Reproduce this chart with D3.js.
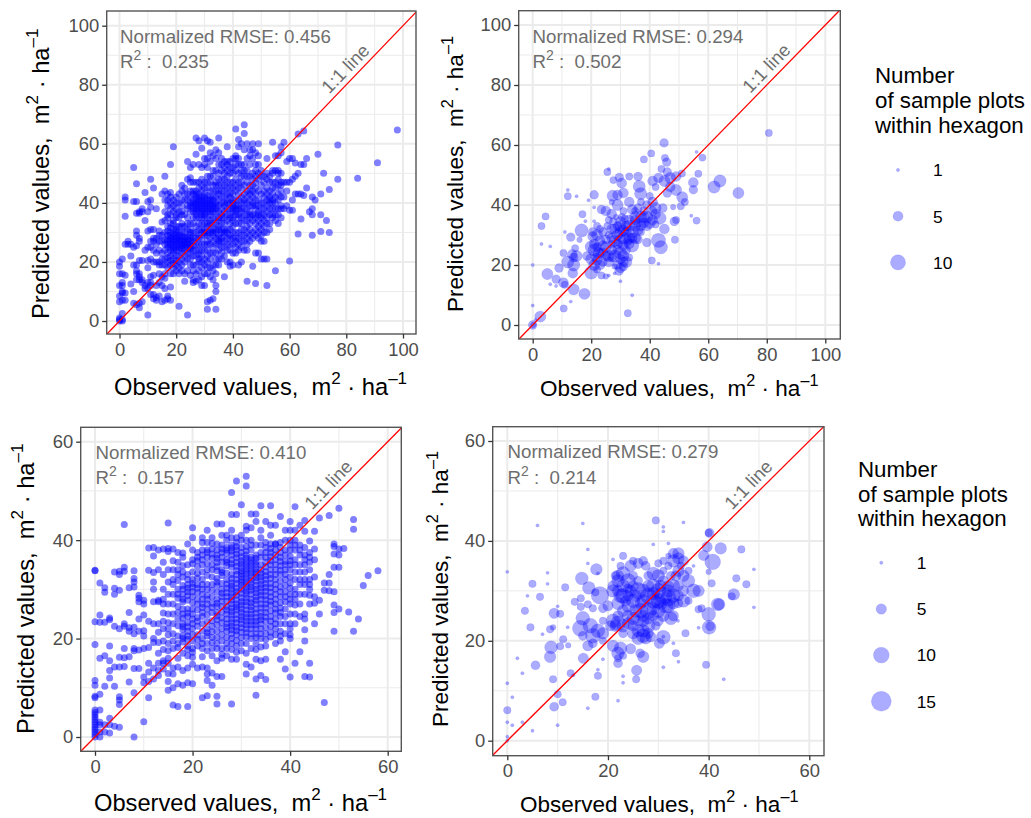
<!DOCTYPE html>
<html>
<head>
<meta charset="utf-8">
<script src="https://cdn.jsdelivr.net/npm/d3@7"></script>
<style>
	body { margin: 0; background: #fff; }
	text { font-family: "Liberation Sans", Arial, sans-serif; }
</style>
</head>
<body>
<svg width="1031" height="818"></svg>
<script>
// observed value, then the predicted values read at that observed value
const columnsA = [
	[0, [0, 0.5, 1, 6.5, 8.5, 12, 16, 18.5, 20]],
	[1, [0, 0.5, 2.5, 7, 9.5, 10, 12, 13, 16, 21]],
	[2, [7, 9.5, 15.5, 26, 35.5, 41, 42]],
	[3, [27, 26]],
	[4, [12.5, 22, 26]],
	[5, [6, 10, 19, 25, 40.5, 52]],
	[6, [5.5, 14, 16, 17, 19, 25.5, 29, 30.5, 36.5, 40.5, 46.5]],
	[7, [4.5, 6, 14, 15, 16, 20.5, 27, 28, 36.5, 37]],
	[8, [6.5, 13, 14, 20.5, 37, 38]],
	[9, [11, 12, 24, 34, 43.5]],
	[10, [2, 11, 13, 18, 20.5, 25, 30.5, 37, 40.5]],
	[11, [9, 12, 13, 15, 21, 25, 27, 31, 38.5, 41, 48]],
	[12, [7.5, 9, 15.5, 20, 24, 27, 28, 31, 45]],
	[13, [7, 8, 12, 20, 23, 26, 28, 38]],
	[14, [8.5, 13, 19, 20, 27, 30.5]],
	[15, [6.5, 12, 15, 19, 29, 33.5, 43]],
	[16, [7, 11, 14.5, 19, 24, 26, 30, 37, 41, 44, 49]],
	[17, [7.5, 8.5, 18, 23, 25, 27, 29, 32, 35, 39, 41, 43]],
	[18, [7, 11.5, 16, 22, 24, 26, 28, 30, 33, 36, 40, 43.5, 53]],
	[19, [16, 18, 21, 25, 27, 28.5, 31, 34, 37, 41, 59]],
	[20, [17, 19, 24, 26, 28, 30, 32, 35, 38, 42]],
	[21, [5, 16, 20, 25, 27, 28, 29, 32, 35, 40, 43]],
	[22, [17, 23, 26, 27.5, 30, 33, 37, 41, 46]],
	[23, [13.5, 16, 24, 26, 27, 28.5, 32, 43, 45]],
	[24, [2, 21, 23, 26, 27.5, 31, 35, 38, 41, 48, 54]],
	[25, [15.5, 19, 25, 27, 28, 31, 37, 40, 47, 48.5, 52]],
	[26, [13, 14, 22, 24, 27, 30, 35, 39, 41, 43, 53]],
	[27, [13.5, 16, 19, 22, 26, 30, 35, 38, 40, 42, 47, 56.5, 62]],
	[28, [14, 17, 20, 24, 28, 31, 37, 39, 41, 43, 47, 53, 61]],
	[29, [12, 15, 18, 22, 26, 31, 35, 38, 40, 44, 46, 52, 58.5]],
	[30, [12, 16, 19, 24, 29, 33, 37, 39, 41, 43, 47, 55, 62]],
	[31, [4, 6.5, 16, 20, 24, 27, 30, 32, 37, 39, 41, 45, 52, 55, 61]],
	[32, [7, 15, 18, 21, 28, 31, 34, 38, 40, 44, 47, 57, 60.5]],
	[33, [7.5, 14, 19, 23, 27, 30, 33, 37, 39, 42, 46, 49, 56]],
	[34, [4, 10, 12, 16, 21, 26, 28, 31, 35, 38, 44, 47, 51, 55, 58]],
	[35, [19, 24, 27, 29, 31, 34, 37, 41, 46, 50, 57, 62]],
	[36, [21, 25, 28, 30, 33, 36, 40, 44, 48, 51]],
	[37, [15, 22, 27, 30, 33, 37, 42, 46, 52, 54]],
	[38, [20, 24, 28, 31, 34, 38, 43, 47, 51, 54, 59]],
	[39, [18.5, 20, 26, 29, 33, 36, 40, 45, 50, 54]],
	[40, [19, 23, 26, 30, 32, 35, 38, 41, 47, 52, 55]],
	[41, [25, 28, 30, 36, 39, 44, 48, 53, 56, 65]],
	[42, [19, 24, 30, 33, 36, 41, 47, 53, 59, 61.5]],
	[43, [20, 25, 29, 35, 40, 45, 49, 53, 60]],
	[44, [24, 27, 29, 34, 38, 43, 49, 51, 58, 63.5, 66.5]],
	[45, [13.5, 24, 28, 32, 36, 40, 44, 49, 55, 60]],
	[46, [27, 33, 36, 39, 43, 46, 49, 53, 56]],
	[47, [18.5, 28, 34, 39, 42, 46, 48, 55, 58, 60]],
	[48, [12.7, 23, 29, 33, 36, 38, 41, 45, 49, 53, 57]],
	[49, [23, 30, 34, 37, 39, 44, 50, 56, 60]],
	[50, [21, 27, 31, 35, 38, 43, 49, 51]],
	[51, [21, 27, 32, 36, 40, 42, 44, 49]],
	[52, [12, 21, 30, 33, 37, 39, 43, 48, 55]],
	[53, [31, 36, 38, 41, 44, 47]],
	[54, [35, 38, 41, 43, 47, 51, 60.5]],
	[55, [17, 36, 38, 42, 45, 51, 56]],
	[56, [33, 38, 41, 46, 50, 51, 56]],
	[57, [35, 38, 44, 47, 50, 57, 59]],
	[58, [38, 42, 47, 60.5]],
	[59, [39, 44, 47, 54]],
	[60, [20.3, 37.5, 47, 55]],
	[61, [37.5, 41, 48, 55]],
	[62, [43, 53.5, 49]],
	[63, [29.5, 43, 50, 63.3]],
	[64, [34.5, 43, 53]],
	[65, [42.5, 53, 64.3]],
	[66, [45, 55]],
	[67, [37]],
	[68, [29, 36, 38, 42]],
	[69, [41]],
	[70, [56.5]],
	[71, [30.3, 36, 43]],
	[72, [50]],
	[73, [34]],
	[74, [30, 44.5]],
	[77, [48, 59.6]],
	[84, [48.3]],
	[91, [53.6]],
	[98, [64.7]],
];

// second reading of the dense middle of the top left cloud
const columnsA2 = [
	[14, [16, 24, 29]],
	[15, [21, 23, 27]],
	[16, [16, 21, 27.5, 34]],
	[17, [20, 21.5, 25.8, 27.8, 30.5, 36]],
	[18, [19, 20.5, 25, 27, 29, 31.5, 38, 42]],
	[19, [19.5, 23, 24, 26, 27.6, 29.5, 33, 39]],
	[20, [20.5, 22, 25, 27, 29, 31, 36, 40]],
	[21, [18, 22, 24, 26, 27.5, 30, 37]],
	[22, [19, 21, 24.5, 25.5, 28.5, 32, 36, 39, 44]],
	[23, [20, 22, 25, 26.5, 28, 30, 36, 41]],
	[24, [17, 25, 26.5, 28.5, 33, 39, 43]],
	[25, [21, 23, 24.5, 26, 29, 30, 33, 39, 42, 44]],
	[26, [17, 19, 25.5, 28, 33, 37, 38, 40, 44, 47]],
	[27, [24, 28, 32, 36, 37, 39, 41, 43, 44]],
	[28, [21, 22.5, 26, 29, 33, 35, 38, 40, 42, 45]],
	[29, [20, 24, 28, 30, 33, 36, 37, 39, 41, 42, 48]],
	[30, [21, 26, 30, 31, 35, 36, 38, 40, 42, 45, 53]],
	[31, [18, 22, 26, 29, 33, 35, 38, 40, 42.5, 47, 49]],
	[32, [23, 26, 30, 33, 36, 37, 39, 41, 42, 49, 54]],
	[33, [17, 25, 29, 31, 35, 38, 40, 41, 44, 51]],
	[34, [19, 23, 30, 33, 37, 39, 40, 42, 46]],
	[35, [21, 26, 28, 32, 35, 39, 43, 44, 48, 53]],
	[36, [23, 27, 31, 35, 38, 42, 46, 53, 55]],
	[37, [25, 29, 31, 35, 39, 40, 44, 48, 50]],
	[38, [26, 30, 36, 40, 41, 45, 49, 53]],
	[39, [24, 28, 31, 35, 38, 42, 43, 47, 52]],
	[40, [28, 34, 37, 39, 40, 43, 45, 50]],
	[41, [23, 27, 33, 37, 38, 41, 46, 51, 55]],
	[42, [26, 28, 35, 38, 39, 43, 45, 50, 55]],
	[43, [27, 31, 33, 37, 38, 42, 47, 51]],
	[44, [31, 36, 40, 41, 46, 53]],
	[45, [26, 30, 34, 38, 42, 47, 51]],
	[46, [29, 31, 35, 37, 41, 44, 58]],
	[47, [30, 36, 40, 44, 50]],
	[48, [31, 35, 39, 43, 47, 51]],
	[49, [28, 32, 36, 41, 48, 53]],
	[50, [29, 33, 36, 40, 46]],
	[51, [30, 34, 38, 47]],
	[52, [35, 41, 45, 50]],
	[53, [33, 40, 42, 49]],
	[54, [36, 40, 45, 50]],
	[55, [34, 40, 47]],
	[56, [36, 43, 48]],
	[57, [39, 42, 46]],
];

const columnsC = [
	[0, [0, 0.5, 1, 1.5, 2, 2.5, 3, 3.5, 4, 4.5, 5, 5.5, 8, 8.3, 10.5, 11.5, 18.8, 23.4, 33.8, 33.9]],
	[1, [0, 1, 2.5, 3, 5.5, 8.7, 16, 23.3, 24.8, 31.3]],
	[2, [1, 2.5, 10.3, 16.5, 23.3, 29.4, 30.3]],
	[3, [0.8, 2.5, 3.8, 12, 13.5, 15.5, 18.5, 23.8, 24.2]],
	[4, [2.2, 10.3, 14.2, 22.5, 29, 30.2, 33.5]],
	[5, [2, 6.6, 7.5, 8.2, 14.2, 16.2, 22, 29.8, 33, 33.7]],
	[6, [14.3, 16.1, 18, 22.5, 23, 33.7, 34.5, 43.2]],
	[7, [11.2, 16.3, 21.5, 22.2, 25.3, 30.3]],
	[8, [0, 9, 13.9, 17.5, 18, 21, 22.3, 30.5, 31.5, 32.2, 33.8]],
	[9, [13.9, 17.7, 21.5, 24, 27.5, 28.2, 28.8]],
	[10, [3.1, 11, 12.2, 18, 20.5, 21.6, 24.8, 27, 27.8]],
	[11, [8, 11.3, 13.2, 15, 18.2, 23.5, 33.9, 38.4]],
	[12, [11.8, 14, 19.2, 20, 23, 27.5, 30, 31.5, 33.4, 36.8, 38.5]],
	[13, [12.5, 13.5, 15, 19.2, 21.3, 27.5, 34]],
	[14, [13.8, 15.5, 17.8, 19.5, 25.2, 27, 28, 30, 35.5, 38.2]],
	[15, [9.5, 11.3, 12.9, 16, 17.5, 20.8, 22, 23.2, 27, 31.5, 37.7, 38.3, 43.5]],
	[16, [6.5, 10, 12.8, 18, 21, 25, 29, 32, 35.8, 38.2]],
	[17, [6.2, 10.8, 14.2, 18.2, 20.5, 22.6, 25.3, 28.2, 30, 31.8, 34, 35.5, 37.5]],
	[18, [10.5, 13.5, 17, 19.3, 20.5, 21.8, 23, 24.2, 26, 27.5, 29, 30.8, 32.5, 34.8, 36.5]],
	[19, [6.2, 11, 14, 16.5, 17.8, 19.8, 21.5, 23.2, 24.5, 26, 27.8, 29.5, 31, 33, 39.2]],
	[20, [10.8, 14.8, 16.2, 18, 19.5, 22, 24, 26, 28.5, 30.5, 32, 35.2, 38, 40.5, 42.5]],
	[21, [14, 18.5, 19.8, 22.5, 24.3, 27, 29.3, 31, 33.2, 35.8, 37.5]],
	[22, [8, 14.2, 16.3, 18, 20, 23, 24.5, 26.3, 28, 30, 32, 35, 37, 39.5, 40.5]],
	[23, [8.4, 11.5, 12.8, 14, 17.5, 20.5, 22, 24.8, 27, 28.8, 31, 32.8, 35.2, 36.5, 38, 42]],
	[24, [10.5, 13, 16.5, 18, 20.2, 22.5, 25.3, 27.2, 29.8, 31, 34, 36.3, 38.2, 40.5]],
	[25, [6.7, 8.3, 12.3, 15.5, 19, 21.5, 23.8, 25.3, 26.5, 28, 30.8, 32.2, 33.8, 35.5, 37, 39.2, 43.3]],
	[26, [12.3, 16, 16.8, 19.5, 22, 24.2, 26.5, 28.5, 30, 31.2, 32.8, 34, 35.5, 37.5, 39, 43.3]],
	[27, [16.5, 19, 21.5, 23, 25, 26.5, 28.5, 30.2, 32, 33.3, 34.8, 36, 37.3, 38.5, 41]],
	[28, [6.7, 15.8, 19, 21, 22.5, 24, 25.5, 27, 28.5, 30, 31.3, 33, 34.5, 36, 37.8, 39, 42, 45.2, 49.7]],
	[29, [15.8, 18.5, 20.8, 22.3, 24, 25.8, 27, 28.8, 30.2, 32, 33.8, 35.5, 37.2, 38.7, 40.5, 45.2, 52]],
	[30, [19, 21.3, 23, 24.5, 26, 27.5, 29.2, 30.8, 32, 33.2, 34.5, 35.8, 37.5, 40, 47.2]],
	[31, [12.8, 14.8, 17, 19, 21.2, 22.8, 24.3, 25.8, 27.5, 29, 30.3, 31.6, 33, 34.3, 35.6, 37, 38.7, 40, 42, 42.8, 51, 53]],
	[32, [14.2, 20, 22, 23.5, 25, 26.5, 28, 29.8, 31.2, 32.6, 34, 35.3, 36.5, 39, 45.3]],
	[33, [8.5, 11.8, 15.8, 17.8, 20.2, 22, 23.5, 25.2, 27, 28.5, 30, 31.7, 33, 34.2, 35.6, 37, 43.8, 45.3]],
	[34, [12.5, 15.5, 18.3, 21, 23, 24.5, 26.2, 28, 29.5, 31, 32.5, 34, 36.5, 40.5, 42, 47]],
	[35, [11.7, 15.8, 18.5, 21, 23.5, 25.3, 27, 28.7, 30.4, 32, 33.6, 35.5, 38.5, 43.8]],
	[36, [20.3, 22.5, 24.5, 26.8, 28.5, 30.3, 32.2, 34, 35.8, 37.5, 39.2, 41, 43, 47]],
	[37, [20.8, 23, 25.2, 27, 29, 31, 33, 35, 37, 39.2, 43]],
	[38, [15.8, 19.5, 21.5, 24.5, 26.2, 28.5, 30.5, 33, 34.8, 36.5, 38.5, 39.5, 44.8]],
	[39, [13.8, 17.3, 23, 26, 27.5, 29.5, 32, 34, 35.7, 38, 40, 42]],
	[40, [12.2, 20, 20.8, 22, 27, 29, 31.3, 35, 35.8, 38, 40, 42, 43.8]],
	[41, [15, 26.8, 29, 32, 36, 38, 39, 42, 46.8]],
	[42, [17.3, 24.5, 27, 31, 33.5, 37, 39, 43]],
	[43, [12.3, 19.5, 21.8, 24, 32, 33.5, 35, 38.5, 41.8, 44]],
	[44, [12.2, 15, 28.8, 30, 32, 36.5, 37.5, 39.8]],
	[45, [23, 27.2, 28.5, 32.5, 36, 38.2, 41.8]],
	[46, [25, 27.8, 44.5]],
	[47, [7, 29.8, 31.3]],
	[48, [29.7, 31.3, 33, 45]],
	[49, [21.5, 25.3, 26.8, 29.5, 34.5, 37.2, 38.7, 39.2]],
	[50, [26, 34.5, 37, 38.2, 46.5]],
	[51, [38.3]],
	[52, [25.4]],
	[53, [21.5, 42.2, 44.2]],
	[54, [24]],
	[55, [30.8]],
	[56, [32.8]],
	[58, [33.8]],
];

// second reading of the dense middle of the bottom left cloud
const columnsC2 = [
	[13, [17, 23, 27.8, 38]],
	[14, [15, 22, 23.5, 33]],
	[15, [15, 19, 25, 29, 34]],
	[16, [14, 19.5, 23, 27, 31, 34]],
	[17, [16, 19, 24, 26.5, 29, 33]],
	[18, [20, 22.4, 25, 28, 30, 33.5, 37.4]],
	[19, [18.5, 20.5, 22.4, 25.2, 28.7, 30.2, 32, 35]],
	[20, [17.2, 20.8, 23, 25, 27.3, 29.5, 31.2, 33.5, 36]],
	[21, [20.8, 23.5, 25.8, 28, 30.2, 32.3, 34.6, 36.5]],
	[22, [19, 21.5, 25.3, 27, 29, 31, 33.5, 36, 38]],
	[23, [19, 21.2, 23.4, 26, 28, 30, 34, 37.5, 39.5]],
	[24, [19.2, 21.4, 23.6, 26.3, 28.5, 32.5, 35, 37.2, 39.3]],
	[25, [18, 20.2, 22.8, 24.6, 27.2, 29.4, 31.5, 34.6, 36.3, 38]],
	[26, [18, 20.8, 23.2, 25.4, 27.6, 29.2, 33.4, 36.5, 38.2, 41]],
	[27, [18, 20.2, 22.3, 24, 25.8, 27.6, 29.3, 31.1, 35.5, 38, 40]],
	[28, [17.8, 20, 21.8, 23.2, 24.8, 26.2, 27.8, 29.2, 30.7, 32.2, 35.2, 37, 38.4, 40.5]],
	[29, [17.2, 19.6, 21.6, 23.2, 24.9, 26.4, 27.9, 29.5, 31.2, 33, 34.7, 36.4, 38, 39.5]],
	[30, [17.5, 20.2, 22.2, 23.8, 25.3, 26.8, 28.3, 30, 31.4, 32.6, 33.8, 35.2, 36.6, 38.5, 41]],
	[31, [20.3, 22, 23.5, 25, 26.7, 28.2, 29.6, 31, 32.3, 33.7, 35, 36.3, 37.8]],
	[32, [18, 21, 22.8, 24.3, 25.8, 27.3, 29, 30.5, 31.9, 33.3, 34.7, 36, 38, 40, 42.5]],
	[33, [19, 21, 22.8, 24.3, 26, 27.8, 29.3, 30.8, 32.4, 33.6, 35, 36.3, 39]],
	[34, [20, 22, 23.8, 25.3, 27, 28.8, 30.3, 31.8, 33.2, 35, 37.5, 39]],
	[35, [19.8, 22.2, 24.4, 26.2, 27.9, 29.6, 31.2, 32.8, 34.6, 36.5, 37.5, 39.5]],
	[36, [21.3, 23.5, 25.6, 27.6, 29.4, 31.2, 33, 35, 36.6, 38.3]],
	[37, [19, 22, 24, 26, 28, 30, 32, 34, 36, 38, 39.2]],
	[38, [20.5, 23, 25.3, 27.3, 29.5, 31.7, 33.9, 35.7, 37.5]],
	[39, [21, 24.5, 28.5, 30.8, 33, 35, 37]],
	[40, [23, 25, 28, 30.2, 32.5, 34, 36.8, 39]],
	[41, [23, 25, 28, 30, 33.5, 35, 40]],
	[42, [29, 32, 35, 38]],
	[43, [25, 29, 31, 36, 37]],
	[44, [27, 31, 34, 35.5]],
];

// observed, predicted, sample plots in the hexagon
const hexagonsB = [
	[80.7, 64, 3], [44.9, 60.7, 4], [40.5, 57.2, 3], [38, 55.2, 3], [45.2, 55.7, 3], [45.8, 54.3, 4], [58, 55.8, 3], [56, 57.7, 1],
	[56.6, 50.4, 3], [25.5, 51, 3], [26, 52, 1], [29.6, 49.2, 4], [27.6, 48.3, 3], [33, 49.5, 3], [36, 49.5, 4], [30.4, 47.3, 5],
	[36.4, 46.2, 7], [27.3, 43.1, 6], [29, 43.3, 5], [31, 44, 5], [36.9, 43.8, 7], [21, 43.4, 4], [12, 42.9, 3], [12, 45, 1],
	[15, 42.9, 1], [19.1, 41.6, 1], [64, 48, 7], [62, 46, 7], [70.3, 44, 6], [54.9, 47.5, 5], [54.9, 45.1, 4], [51.1, 42.6, 6],
	[50.6, 39.6, 3], [48, 39.3, 2], [48.6, 28.4, 3], [49, 35, 3], [48.4, 34.5, 4], [43, 28.2, 9], [43.8, 25.9, 8], [45, 32, 5],
	[43.5, 35.6, 7], [56, 34.8, 3], [54.2, 36.4, 1], [40.7, 21.5, 3], [43, 20.4, 1], [39, 27.5, 4], [32.5, 3.9, 3], [34, 9.9, 1],
	[30, 14.6, 1], [10.6, 5.5, 3], [13, 7.8, 1], [2.6, 2.8, 6], [1, 1.7, 1], [0, 0, 4], [0.2, 0, 2], [0, 6.5, 1], [0, 20, 1],
	[3, 33, 3], [4.4, 36.2, 3], [3, 27, 1], [6, 26.2, 1], [11, 31, 1], [16.7, 31.5, 8], [17, 36.9, 3], [13, 29.3, 4], [16, 28.4, 2],
	[18, 34.6, 1], [21, 34.6, 1], [21, 39.2, 1], [17.7, 10.4, 6], [14, 11.9, 6], [13.7, 17.3, 5], [5, 17, 6], [8, 15.3, 4],
	[10.5, 14.1, 5], [11, 13.4, 3], [6, 13.6, 1], [8, 13, 1], [9, 19, 4], [10.5, 24, 3], [12, 21, 7], [14, 20, 7], [14.5, 25.6, 3],
	[13.5, 23.5, 5], [15, 23, 6], [14, 22.5, 4], [18.5, 23, 4], [20, 17.5, 8], [21, 20, 6], [22, 18.5, 3], [23, 20, 5], [20, 26, 7],
	[20.5, 29.5, 5], [22, 30, 6], [23, 28, 5], [21, 25, 7], [22.5, 24, 6], [24, 24, 5], [25, 26, 6], [24, 31, 4], [26, 30, 3],
	[23.5, 16.5, 3], [25, 16.2, 2], [26, 16.5, 1], [28, 17.2, 1], [30, 19, 5], [31, 19.5, 4], [32, 21, 6], [33, 22.5, 3], [29, 20, 4],
	[28, 23, 7], [30, 22, 5], [26, 23, 6], [27, 25, 5], [25.5, 33, 3], [28, 32, 5], [29, 30, 6], [30, 28, 7], [31, 26.5, 5], [32, 25, 4],
	[34, 26.5, 8], [33, 29, 6], [31, 31.5, 6], [32, 33, 5], [34, 31, 7], [35, 33, 6], [36, 31.5, 5], [33, 35, 5], [35, 36, 6],
	[36, 34, 4], [37, 36, 6], [38, 34, 5], [39, 36, 7], [40, 34, 6], [38, 38, 4], [34, 38.5, 5], [36, 39, 4], [30, 33, 6],
	[27, 37, 5], [25, 38, 5], [23.5, 38.5, 4], [26, 35, 3], [28.5, 36, 2], [30.5, 36, 3], [31, 38, 3], [41, 41, 5], [40, 43, 3],
	[42, 39, 6], [44.5, 39, 4], [47, 46, 5], [45, 48, 6], [47, 49, 6], [49, 49.5, 5], [51, 50.5, 3], [43, 49, 5], [41, 48, 5],
	[42, 46, 3], [46, 44, 4], [49, 45, 6], [52, 41, 3], [37, 41, 3], [33, 41, 5], [29, 40, 6], [27, 41, 2], [44, 52, 3], [46, 51, 4],
	[20, 22, 6], [21, 27, 5], [22, 26, 4], [24, 26.5, 5], [23, 24, 4], [25, 23, 5], [26, 21, 5], [27, 22.5, 4], [29, 25, 5],
	[28, 28, 6], [29, 27, 5], [27, 29, 5], [27, 32, 5], [29, 33, 4], [30, 31, 6], [31, 29, 7], [33, 33, 6], [32, 31, 5], [30, 24, 7],
	[31, 23, 6], [33, 27, 5], [35, 29, 6], [36, 28.5, 4], [37, 31, 3], [35, 35, 5], [37, 33, 5], [38, 36, 6], [39, 33, 5], [41, 35, 5],
	[42, 37, 5], [41, 38, 4], [42, 33.5, 3], [39, 40, 4], [35, 38, 3], [31.5, 35.5, 3], [30, 34.5, 5], [27.5, 34.5, 3], [22, 33, 3],
	[20.5, 31, 4], [23, 32, 3], [31, 21, 5], [29.5, 18, 4], [24, 21, 4], [22, 21.5, 5], [21.5, 22.5, 4], [25, 28.5, 4], [34, 29, 5],
	[28, 19.5, 2], [27, 27, 3], [32.5, 28, 4],
];

const hexagonsD = [
	[29.5, 44.1, 3], [31, 42.8, 1], [31, 41.9, 1], [35, 43.7, 1], [6, 43.1, 1], [15, 43.5, 1], [40, 41.6, 3], [40.2, 41.6, 4], [29, 39.3, 1],
	[32, 39.5, 1], [16, 38.3, 1], [39.7, 38.8, 5], [42.4, 38.5, 6], [46.5, 38.3, 3], [39, 37.1, 5], [40.8, 35.8, 10], [40, 33.8, 2],
	[40.6, 31.5, 3], [16, 35.5, 1], [17.7, 34.3, 6], [18, 33.5, 1], [21, 36.3, 1], [23, 37, 3], [0, 33.8, 1], [8, 33.6, 1], [8, 31.4, 1],
	[5, 31.4, 3], [4, 29, 1], [6.5, 28.8, 3], [11.5, 30.7, 3], [14.8, 32.5, 7], [16.2, 30.6, 7], [18.4, 29.1, 12], [17.5, 29.7, 3],
	[3.5, 26, 3], [10, 26.9, 1], [9.3, 25.5, 5], [10.5, 25.4, 3], [13.4, 27.8, 3], [14.6, 28.5, 3], [14.6, 26.8, 3], [16, 27.3, 3],
	[17, 26.5, 3], [4.6, 22.7, 3], [8.5, 22.3, 3], [9.1, 22.7, 2], [12, 22.7, 1], [7, 21.3, 1], [11.1, 20.3, 3], [10.5, 18.9, 3],
	[8.7, 18.7, 7], [8.5, 16.8, 6], [12.1, 19.1, 2], [2, 16.5, 1], [5.6, 15.1, 4], [3, 13.5, 1], [0, 11.5, 1], [1, 8.7, 1], [9.1, 12.3, 3],
	[12.6, 13.5, 3], [13.1, 13.1, 1], [10, 9.3, 3], [9.3, 6.8, 4], [11, 7.7, 3], [17.5, 8.8, 3], [16, 6.5, 1], [22, 8, 1], [0, 6.1, 3],
	[0, 3.7, 1], [1, 3.1, 1], [3, 3.7, 1], [5, 2, 1], [10, 3.1, 1], [0, 0.8, 1], [0, 0, 1], [18, 13, 3], [18, 14.2, 1], [23, 12.9, 1],
	[23, 11.6, 1], [25.6, 12.3, 3], [25.7, 14.1, 5], [22, 15.5, 4], [19, 16.3, 1], [15.1, 16.5, 5], [31, 14.7, 1], [34, 15.8, 1],
	[39.5, 15.2, 3], [43, 12.3, 1], [33.5, 17.5, 3], [33, 19.5, 1], [30.2, 19.5, 5], [31, 20.7, 8], [31, 20.8, 1], [26.4, 17.5, 4],
	[27, 16.8, 6], [24.5, 18.4, 5], [33.9, 24, 1], [38, 22.6, 1], [35.4, 21.5, 3], [40.1, 22.7, 8], [40.3, 22.9, 4], [40, 25.3, 8],
	[38, 26.3, 3], [38.6, 26.5, 3], [41.8, 27.3, 7], [42.1, 27.3, 6], [44.6, 28.9, 3], [45, 29.3, 6], [45.5, 32.5, 3], [47.5, 31.3, 3],
	[49, 34.3, 1], [49, 26.7, 1],
	[15, 24.5, 8], [14.5, 22.5, 10], [16.5, 23, 9], [18, 22, 8], [17, 21, 9], [19, 21.5, 6], [15, 21, 4], [16, 19, 5], [17, 19.5, 4],
	[19, 24, 3], [19, 26.5, 4], [20, 27, 5], [21, 30, 7], [22, 32, 7], [21.5, 33, 4], [21, 31, 5], [23, 33.5, 8], [24, 32, 9], [24.5, 35, 6],
	[26, 35.5, 5], [27.5, 35, 4], [28, 33, 4], [29, 33.5, 7], [30, 33, 7], [31, 34, 3], [25, 33, 4], [29, 31, 8], [30, 30, 9],
	[26, 30, 11], [27, 30, 8], [28, 29, 10], [29, 28, 9], [31, 29, 12], [32, 28.5, 10], [33, 29, 8], [31.5, 27, 9], [30, 26, 8], [28, 26, 11],
	[26.5, 26, 9], [25, 28, 8], [24, 27, 7], [23, 29, 9], [22.5, 29, 8], [22, 27.5, 7], [23, 26, 6], [21, 24, 8], [22, 23.5, 9], [23, 23, 7],
	[24, 23.5, 6], [25, 24.5, 7], [26, 24, 5], [27, 25, 6], [29, 25, 5], [30, 24, 5], [28, 23, 8], [27, 22, 7], [26, 22, 7], [27, 21, 8],
	[25, 21.5, 6], [28.5, 20.8, 5], [21, 19, 6], [22, 17.5, 7], [22.5, 18.5, 7], [22, 16.5, 3], [23, 17, 3], [19, 20, 3], [33, 25, 5],
	[32.5, 24.5, 7], [33, 31, 7], [34, 31, 5], [35, 33, 6], [34, 34, 6], [35, 36, 5], [34, 36.5, 6], [33, 36, 7], [32, 35, 3], [35, 28, 7],
	[36, 32, 7], [37, 30, 8], [38, 30, 6], [35, 30, 5], [34, 27.5, 4], [36, 34, 3], [37, 35, 1], [36, 28, 3], [31, 32, 5], [32, 31, 5],
	[22, 33, 6], [23, 31, 7], [22, 30, 6], [23.5, 28, 5], [24.5, 30, 6], [25, 31, 5], [26, 32, 4], [27, 28, 7], [28, 31, 6], [29, 29.5, 7],
	[30, 28, 9], [30.5, 31, 6], [32, 27, 8], [32, 30, 7], [33, 27.5, 6], [34, 29, 5], [31, 25, 6], [29, 26.5, 7], [28, 24.5, 6], [27, 24, 6],
	[25.5, 26, 7], [24, 25, 6], [22, 25, 5], [21.5, 23, 6], [20.5, 23, 5], [23, 21.5, 4], [25, 23, 5], [26, 20.5, 7], [27.5, 20.5, 6],
	[28, 21.5, 5], [26.5, 27.5, 6], [24, 29, 5], [25.5, 29, 6], [29.5, 23, 4], [30.5, 27.5, 7], [33.5, 33, 5], [32.5, 33, 4], [34.5, 35, 3],
	[31, 36, 3], [33, 37.5, 5], [34, 37.5, 6], [32, 37, 2], [30, 35.5, 3], [27, 36, 4], [25, 36, 3], [24, 30.5, 4], [22.5, 35, 3],
];

const panels = [
	{
		columns: columnsA.concat(columnsA2), maxValue: 100, ticks: [0, 20, 40, 60, 80, 100],
		box: { left: 106.7, right: 416, top: 11, bottom: 334 },
		origin: { x: 119.5, y: 321 }, end: { x: 403, y: 25.7 },
		rmse: "0.456", r2: "0.235", noteX: 120, noteY: 42.5, lineNote: [350, 73],
		xTitle: { x: 114, y: 395, size: 23.7 }, yTitle: { x: 49, y: 319, size: 23.7 },
	},
	{
		hexagons: hexagonsB, sizeDomain: [1, 10], sizeRange: [1.7, 7.6], maxValue: 100, ticks: [0, 20, 40, 60, 80, 100],
		box: { left: 518.7, right: 840.3, top: 10.7, bottom: 339 },
		origin: { x: 532.7, y: 325 }, end: { x: 825.3, y: 25 },
		rmse: "0.294", r2: "0.502", noteX: 532.5, noteY: 42.5, lineNote: [771, 72.5],
		xTitle: { x: 540, y: 396, size: 22.5 }, yTitle: { x: 463, y: 312, size: 22.5 },
	},
	{
		columns: columnsC.concat(columnsC2), maxValue: 60, ticks: [0, 20, 40, 60],
		box: { left: 80.7, right: 401.3, top: 427.3, bottom: 751.3 },
		origin: { x: 95, y: 737 }, end: { x: 387.7, y: 441.7 },
		rmse: "0.410", r2: "0.157", noteX: 95.5, noteY: 458.5, lineNote: [333, 489],
		xTitle: { x: 94, y: 811, size: 23.7 }, yTitle: { x: 34, y: 734, size: 23.7 },
	},
	{
		hexagons: hexagonsD, sizeDomain: [1, 15], sizeRange: [1.7, 10], maxValue: 60, ticks: [0, 20, 40, 60],
		box: { left: 492.7, right: 824, top: 426.7, bottom: 755.7 },
		origin: { x: 507.3, y: 740.7 }, end: { x: 809.3, y: 441 },
		rmse: "0.279", r2: "0.214", noteX: 507.5, noteY: 458, lineNote: [753, 489],
		xTitle: { x: 520, y: 812, size: 22.5 }, yTitle: { x: 448, y: 727, size: 22.5 },
	},
];

const legendCountsTop = [1, 5, 10];
const legendCountsBottom = [1, 5, 10, 15];
const legendTitle = ["Number", "of sample plots", "within hexagon"];

const svg = d3.select("svg");

const superscriptTitle = (selection, label, size) => {
	selection.attr("font-size", size).attr("fill", "#000");
	selection.append("tspan").text(`${label},\u00a0\u00a0m`);
	selection.append("tspan").attr("font-size", size * 0.72).attr("dy", -size * 0.46).text("2");
	selection.append("tspan").attr("dy", size * 0.46).text("\u00a0\u00b7\u00a0ha");
	selection.append("tspan").attr("font-size", size * 0.72).attr("dy", -size * 0.46).text("\u20131");
};

const drawPanel = (p) => {
	const { box, origin, end, maxValue } = p;
	const xUnit = (end.x - origin.x) / maxValue;
	const yUnit = (origin.y - end.y) / maxValue;
	const xScale = d3
		.scaleLinear()
		.domain([(box.left - origin.x) / xUnit, (box.right - origin.x) / xUnit])
		.range([box.left, box.right]);
	const yScale = d3
		.scaleLinear()
		.domain([(origin.y - box.bottom) / yUnit, (origin.y - box.top) / yUnit])
		.range([box.bottom, box.top]);

	const clipId = `clip-${p.rmse.replace(".", "")}`;
	svg
		.append("clipPath")
		.attr("id", clipId)
		.append("rect")
		.attr("x", box.left)
		.attr("y", box.top)
		.attr("width", box.right - box.left)
		.attr("height", box.bottom - box.top);

	const g = svg.append("g");
	const gridStep = p.ticks[1] - p.ticks[0];
	const minor = p.ticks.map((d) => d + gridStep / 2);
	const minorX = minor.filter((d) => d > xScale.domain()[0] && d < xScale.domain()[1]);
	const minorY = minor.filter((d) => d > yScale.domain()[0] && d < yScale.domain()[1]);

	const gridLines = (xValues, yValues, width, cls) => {
		g.selectAll(`.${cls}-x`)
			.data(xValues)
			.enter()
			.append("line")
			.attr("class", `${cls}-x`)
			.attr("x1", xScale)
			.attr("x2", xScale)
			.attr("y1", box.top)
			.attr("y2", box.bottom)
			.attr("stroke", "#ebebeb")
			.attr("stroke-width", width);
		g.selectAll(`.${cls}-y`)
			.data(yValues)
			.enter()
			.append("line")
			.attr("class", `${cls}-y`)
			.attr("y1", yScale)
			.attr("y2", yScale)
			.attr("x1", box.left)
			.attr("x2", box.right)
			.attr("stroke", "#ebebeb")
			.attr("stroke-width", width);
	};
	gridLines(minorX, minorY, 1, "minor");
	gridLines(p.ticks, p.ticks, 2, "major");

	const marks = g.append("g").attr("clip-path", `url(#${clipId})`);
	if (p.columns) {
		const plots = p.columns.flatMap(([obs, preds]) => preds.map((pred) => [obs, pred]));
		marks
			.selectAll("circle")
			.data(plots)
			.enter()
			.append("circle")
			.attr("cx", (d) => xScale(d[0]))
			.attr("cy", (d) => yScale(d[1]))
			.attr("r", 3.5)
			.attr("fill", "#0000ff")
			.attr("fill-opacity", 0.5);
	} else {
		const sizeScale = d3.scaleSqrt().domain(p.sizeDomain).range(p.sizeRange);
		marks
			.selectAll("circle")
			.data(p.hexagons)
			.enter()
			.append("circle")
			.attr("cx", (d) => xScale(d[0]))
			.attr("cy", (d) => yScale(d[1]))
			.attr("r", (d) => sizeScale(d[2]))
			.attr("fill", "#0000ff")
			.attr("fill-opacity", 0.33)
			.attr("stroke", "#0000ff")
			.attr("stroke-opacity", 0.12)
			.attr("stroke-width", 0.7);
	}

	const [lo, hi] = [Math.max(xScale.domain()[0], yScale.domain()[0]), Math.min(xScale.domain()[1], yScale.domain()[1])];
	marks
		.append("line")
		.attr("x1", xScale(lo))
		.attr("y1", yScale(lo))
		.attr("x2", xScale(hi))
		.attr("y2", yScale(hi))
		.attr("stroke", "#ff0000")
		.attr("stroke-width", 1.3);

	const note = g.append("g").attr("fill", "#6e6e6e").attr("font-size", 18.7);
	note.append("text").attr("x", p.noteX).attr("y", p.noteY).text(`Normalized RMSE: ${p.rmse}`);
	const r2 = note.append("text").attr("x", p.noteX).attr("y", p.noteY + 25.5);
	r2.append("tspan").text("R");
	r2.append("tspan").attr("font-size", 14).attr("dy", -8).text("2");
	r2.append("tspan").attr("dy", 8).text(`\u00a0:\u00a0\u00a0${p.r2}`);
	note
		.append("text")
		.attr("transform", `translate(${p.lineNote[0]},${p.lineNote[1]}) rotate(-46)`)
		.attr("text-anchor", "middle")
		.attr("font-size", 18.5)
		.text("1:1 line");

	g.append("rect")
		.attr("x", box.left)
		.attr("y", box.top)
		.attr("width", box.right - box.left)
		.attr("height", box.bottom - box.top)
		.attr("fill", "none")
		.attr("stroke", "#555")
		.attr("stroke-width", 1.4);

	const styleAxis = (axis) => {
		axis.select(".domain").remove();
		axis.selectAll(".tick line").attr("stroke", "#333").attr("stroke-width", 1.3);
		axis.selectAll(".tick text").attr("fill", "#4d4d4d").attr("font-size", 18.4).attr("font-family", "Liberation Sans, Arial, sans-serif");
	};
	g.append("g")
		.attr("transform", `translate(0,${box.bottom})`)
		.call(d3.axisBottom(xScale).tickValues(p.ticks).tickSize(4.5).tickPadding(4))
		.call(styleAxis);
	g.append("g")
		.attr("transform", `translate(${box.left},0)`)
		.call(d3.axisLeft(yScale).tickValues(p.ticks).tickSize(4.5).tickPadding(3))
		.call(styleAxis);

	g.append("text")
		.attr("x", p.xTitle.x)
		.attr("y", p.xTitle.y)
		.call(superscriptTitle, "Observed values", p.xTitle.size);
	g.append("text")
		.attr("transform", `translate(${p.yTitle.x},${p.yTitle.y}) rotate(-90)`)
		.call(superscriptTitle, "Predicted values", p.yTitle.size);
};

const drawLegend = (counts, sizeDomain, sizeRange, x, titleY, keyX, keyY, labelX) => {
	const sizeScale = d3.scaleSqrt().domain(sizeDomain).range(sizeRange);
	const legend = svg.append("g");
	legend
		.selectAll(".legend-title")
		.data(legendTitle)
		.enter()
		.append("text")
		.attr("class", "legend-title")
		.attr("x", x)
		.attr("y", (d, i) => titleY + i * 24.8)
		.attr("font-size", 22.3)
		.text((d) => d);
	const keys = legend
		.selectAll(".key")
		.data(counts)
		.enter()
		.append("g")
		.attr("class", "key")
		.attr("transform", (d, i) => `translate(0, ${keyY + i * 46.2})`);
	keys
		.append("circle")
		.attr("cx", keyX)
		.attr("r", sizeScale)
		.attr("fill", "#0000ff")
		.attr("fill-opacity", 0.33)
		.attr("stroke", "#0000ff")
		.attr("stroke-opacity", 0.12)
		.attr("stroke-width", 0.7);
	keys
		.append("text")
		.attr("x", labelX)
		.attr("y", 6.3)
		.attr("font-size", 17.4)
		.text((d) => d);
};

panels.forEach(drawPanel);
drawLegend(legendCountsTop, [1, 10], [1.7, 7.6], 875, 83, 898, 170, 933);
drawLegend(legendCountsBottom, [1, 15], [1.7, 10], 858, 476.7, 881.3, 562.7, 916.7);
</script>
</body>
</html>
